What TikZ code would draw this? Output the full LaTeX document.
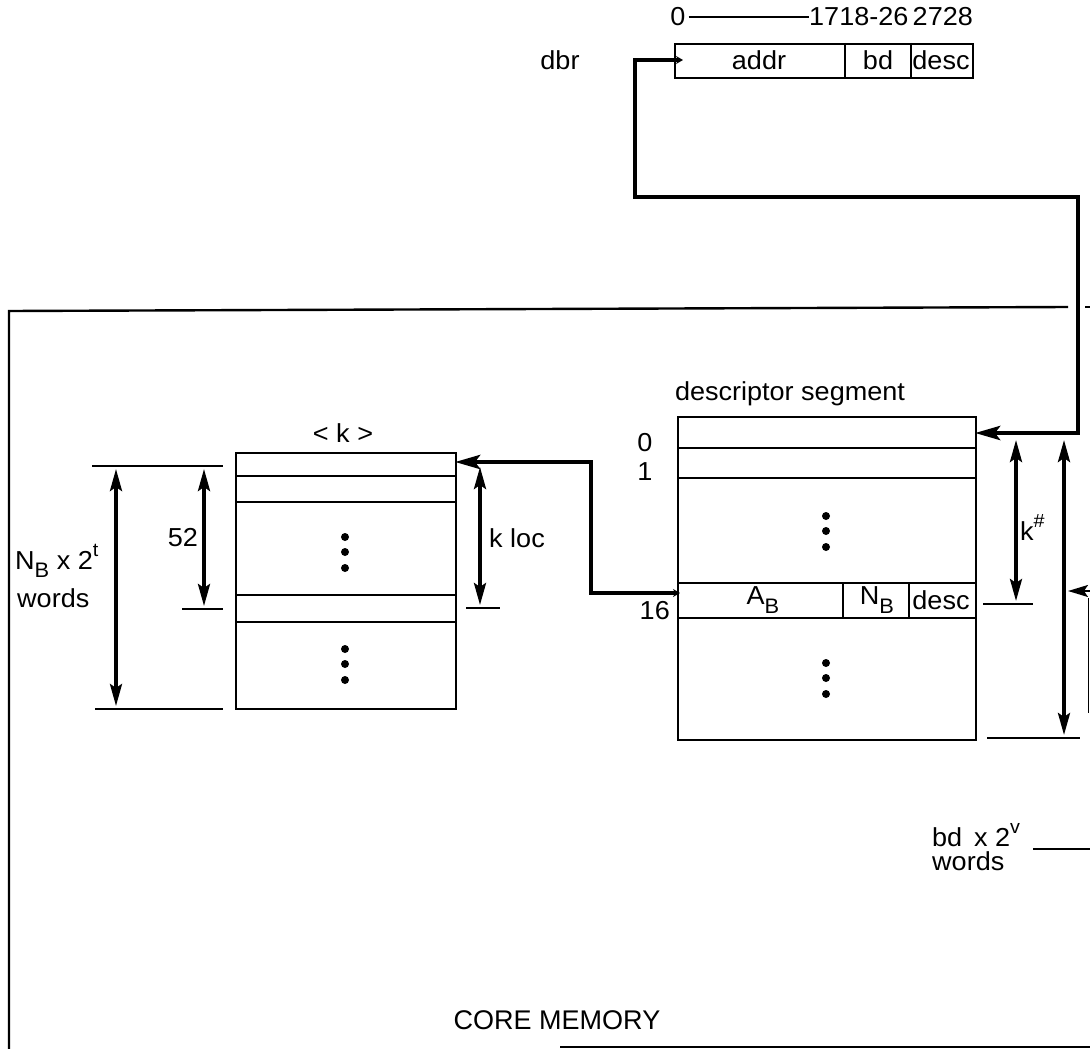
\documentclass[tikz,border=0pt]{standalone}
\usepackage{fontspec}
\setmainfont{Liberation Sans}[FakeStretch=1.04]
\newfontfamily\corefont{Liberation Sans}
\usetikzlibrary{arrows.meta}
\newcommand\lsub[1]{\raisebox{-0.32em}{\fontsize{21}{21}\selectfont #1}}
\newcommand\lsup[1]{\raisebox{0.5em}{\fontsize{19}{19}\selectfont #1}}
\begin{document}
\begin{tikzpicture}[x=1pt,y=-1pt,
  thinline/.style={line width=2pt},
  tickline/.style={line width=2pt},
  conn/.style={line width=4.5pt},
  bigtip/.tip={Stealth[length=25pt,width=14pt,inset=5pt]},
  smalltip/.tip={Stealth[length=7pt,width=8pt]},
  dimarrow/.style={line width=3.5pt,{Stealth[length=22pt,width=12pt,inset=4pt]}-{Stealth[length=22pt,width=12pt,inset=4pt]}},
  lbl/.style={font=\fontsize{26}{28}\selectfont, inner sep=0pt},
  boxnode/.style={draw, thinline, inner sep=0pt, anchor=north west},
  dot/.style={fill, circle, inner sep=0pt, minimum size=8pt}]
\useasboundingbox (0,0) rectangle (1090,1049);

% core memory frame
\draw[line width=2.4pt] (1068,307) -- (9,311) -- (9,1049);
\draw[line width=1.8pt] (1085,307) -- (1090,307);
\draw[line width=1.8pt] (560,1047) -- (1090,1047);
\node[font=\corefont\fontsize{27}{28}\selectfont, inner sep=0pt] (core) at (557,1020) {CORE MEMORY};

% register
\node[boxnode, minimum width=298pt, minimum height=34pt] (reg) at (674,43) {};
\draw[thinline] (845,43) -- (845,77) (911,43) -- (911,77);
\node[lbl] (addr) at (759,60) {addr};
\node[lbl] (bd) at (878,60) {bd};
\node[lbl] (rdesc) at (941,60) {desc};
\node[lbl] (bit0) at (678,17) {0};
\node[lbl, anchor=west] (bits) at (809,17) {1718-26\,2728};
\draw[line width=1.3pt] (bit0.east) ++(3pt,0) -- (bits.west);
\node[lbl] (dbr) at (560,60) {dbr};

% descriptor segment
\node[lbl] (dslabel) at (790,394) {descriptor segment};
\node[boxnode, minimum width=298pt, minimum height=323pt] (ds) at (677,416) {};
\draw[thinline] (677,448) -- (975,448) (677,478) -- (975,478)
  (677,583) -- (975,583) (677,618) -- (975,618)
  (843,583) -- (843,618) (909,583) -- (909,618);
\node[lbl] (r0) at (645,443) {0};
\node[lbl] (r1) at (645,472) {1};
\node[lbl, anchor=east] (r16) at (670,611) {16};
\node[lbl] (ab) at (763,600) {A\lsub{B}};
\node[lbl] (nb) at (877,600) {N\lsub{B}};
\node[lbl] (ddesc) at (941,600) {desc};
\foreach \y in {516,531,547} \node[dot] at (826,\y) {};
\foreach \y in {663,678,694} \node[dot] at (826,\y) {};

% <k> segment
\node[lbl] (klabel) at (343,433) {<\ k\ >};
\node[boxnode, minimum width=220pt, minimum height=256pt] (kb) at (235,452) {};
\draw[thinline] (235,476) -- (455,476) (235,502) -- (455,502)
  (235,595) -- (455,595) (235,622) -- (455,622);
\foreach \y in {537,552,568} \node[dot] at (345,\y) {};
\foreach \y in {649,664,680} \node[dot] at (345,\y) {};

% connectors
\coordinate (dbrstart) at (683,60);
\coordinate (dsin) at (975,433);
\draw[conn, {smalltip}-{bigtip}] (dbrstart) -- (635,60) |- (1078,197) |- (dsin);
\coordinate (abstart) at (680,593);
\coordinate (kin) at (455,462);
\draw[conn, {smalltip}-{bigtip}] (abstart) -- (591,593) |- (kin);

% left dimensions
\draw[tickline] (92,466) -- (223,466) (95,709) -- (223,709);
\draw[tickline] (182,609) -- (223,609);
\draw[tickline] (466,608) -- (500,608);
\draw[dimarrow] (116,469) -- (116,706);
\draw[dimarrow] (204,469) -- (204,606);
\draw[dimarrow] (480,467) -- (480,605);
\node[lbl, anchor=west] (nbx) at (15,561) {N\lsub{B} x 2\lsup{t}};
\node[lbl, anchor=west] (nbw) at (17,598) {words};
\node[lbl] (l52) at (183,538) {52};
\node[lbl, anchor=west] (kloc) at (489,538) {k loc};

% right dimensions
\draw[tickline] (983,604) -- (1033,604) (987,738) -- (1080,738);
\draw[dimarrow] (1016,440) -- (1016,601);
\draw[dimarrow] (1064,440) -- (1064,735);
\node[lbl, anchor=west] (kh) at (1020,527) {k\lsup{\#}};
\coordinate (edge) at (1090,591);
\coordinate (edgetip) at (1068,591);
\draw[line width=1.8pt, -{Stealth[length=20pt,width=12pt,inset=4pt]}] (edge) -- (edgetip);
\draw[line width=0.8pt] (1088,598) -- (1088,713);

\node[lbl, anchor=west] (bdv) at (932,835) {bd\, x 2\lsup{v}};
\node[lbl, anchor=west] (bdw) at (932,861) {words};
\draw[tickline] (1033,849) -- (1090,849);
\end{tikzpicture}
\end{document}
